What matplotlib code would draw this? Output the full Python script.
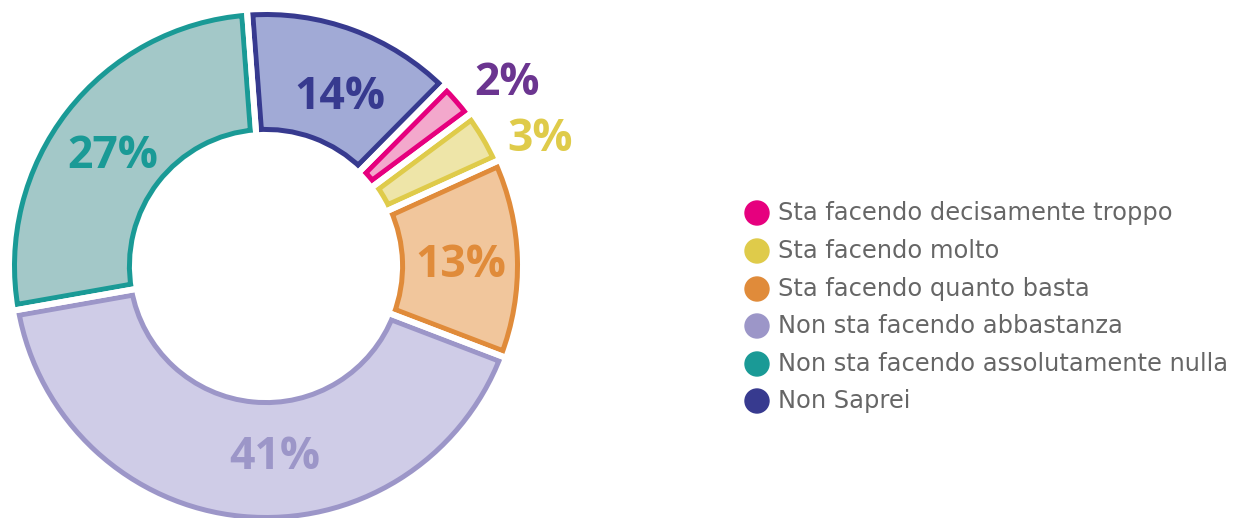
import matplotlib
matplotlib.use("Agg")
import matplotlib.pyplot as plt
from matplotlib.patches import Ellipse

# ---------------- data ----------------
categories = [
    "Sta facendo decisamente troppo",
    "Sta facendo molto",
    "Sta facendo quanto basta",
    "Non sta facendo abbastanza",
    "Non sta facendo assolutamente nulla",
    "Non Saprei",
]
values = [2.4, 3.4, 12.6, 41.4, 26.6, 13.6]
pct_labels = ["2%", "3%", "13%", "41%", "27%", "14%"]

# ---------------- styles ----------------
edge_colors = ["#E6007E", "#DFCB4A", "#E08B3A", "#9C96C8", "#1A9A96", "#373A8F"]
fill_colors = ["#F3A8CC", "#EEE5A8", "#F1C69C", "#CFCCE7", "#A3C8C8", "#A1AAD6"]
label_colors = ["#6B3590", "#DFCB4A", "#E08B3A", "#9C96C8", "#1A9A96", "#373A8F"]
legend_colors = edge_colors

W, H = 1245, 518
fig = plt.figure(figsize=(W / 100, H / 100), dpi=100)

R_PX = 257.0
cx, cy = 266.0, 518 - 266.0
lim = 1.1
span = 2 * lim * R_PX
ax = fig.add_axes([(cx - span / 2) / W, (cy - span / 2) / H, span / W, span / H])
ax.set_xlim(-lim, lim)
ax.set_ylim(-lim, lim)
ax.set_aspect("equal")
ax.axis("off")

# label positions in data units (radius 1 = outer edge)
s = 255.0 / R_PX
label_pos = [(0.945 * s, 0.715 * s), (1.075 * s, 0.495 * s), (0.765 * s, 0.0),
             (0.035 * s, -0.75 * s), (-0.60 * s, 0.43 * s), (0.29 * s, 0.66 * s)]

px = 72 / 100  # points per pixel
ring_w = 0.49
border_px, gap_px = 5.0, 6.0
wedges, _ = ax.pie(values, radius=1.0, startangle=45.3, counterclock=False,
                   colors=fill_colors,
                   wedgeprops=dict(width=ring_w, linewidth=2 * (border_px + gap_px / 2) * px))
for w, ec in zip(wedges, edge_colors):
    w.set_edgecolor(ec)
    w.set_joinstyle("miter")
    w.set_clip_on(True)
    w.set_clip_path(w)

w2, _ = ax.pie(values, radius=1.0, startangle=45.3, counterclock=False,
               wedgeprops=dict(width=ring_w, facecolor="none", edgecolor="white",
                               linewidth=gap_px * px))
for w in w2:
    w.set_zorder(5)
    w.set_joinstyle("miter")

for lab, col, (x, y) in zip(pct_labels, label_colors, label_pos):
    ax.text(x, y, lab, ha="center", va="center", color=col, fontsize=32,
            fontweight="bold", family=["Open Sans", "DejaVu Sans"], zorder=10)

ax.set_xlim(-lim, lim)
ax.set_ylim(-lim, lim)

# ---------------- legend ----------------
leg_y = [213, 251, 289, 326, 364, 401]
for name, col, yy in zip(categories, legend_colors, leg_y):
    fig.patches.append(Ellipse((757 / W, 1 - yy / H), 24 / W, 24 / H,
                               transform=fig.transFigure, color=col))
    fig.text(778 / W, 1 - yy / H, name, ha="left", va="center", color="#666666",
             fontsize=17.4, family=["DejaVu Sans"])

fig.savefig("out.png", dpi=100)
